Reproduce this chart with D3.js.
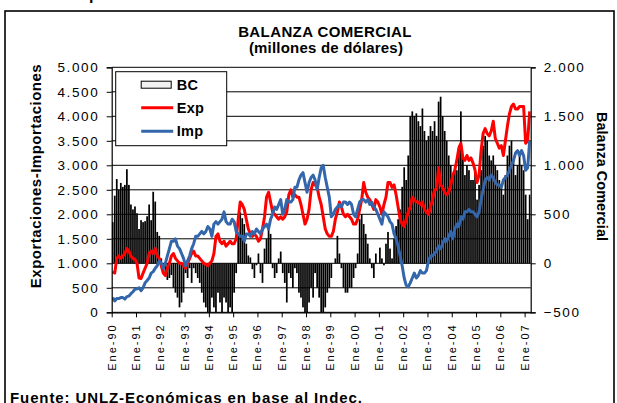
<!DOCTYPE html>
<html>
<head>
<meta charset="utf-8">
<script src="https://cdn.jsdelivr.net/npm/d3@7"></script>
<style>
  html, body { margin: 0; padding: 0; background: #fff; }
  svg text { font-family: Arial, "Liberation Sans", sans-serif; fill: #000; }
</style>
</head>
<body>
<div id="chart"></div>
<script>
'use strict';

// Years shown on the category axis (Enero of each year)
const years = ["90","91","92","93","94","95","96","97","98","99","00","01","02","03","04","05","06","07"];
const monthsPerYear = 12;
const lastYearMonths = 3; // Ene-07 .. Mar-07

// Exportaciones (millones de USD), one row per year
const exportaciones = [
  [830, 800, 1100, 1150, 1100, 1150, 1200, 1300, 1250, 1150, 1100, 1080],
  [1000, 700, 690, 800, 900, 1000, 1200, 1250, 1200, 1300, 1150, 1100],
  [950, 800, 750, 900, 1000, 1150, 1200, 1100, 1050, 1000, 1000, 950],
  [900, 1000, 1100, 1200, 1250, 1150, 1150, 1100, 1050, 1000, 980, 950],
  [1000, 1050, 1200, 1550, 1600, 1450, 1400, 1450, 1350, 1400, 1450, 1400],
  [1400, 1500, 1900, 2250, 2200, 2100, 1900, 1700, 1600, 1550, 1600, 1550],
  [1450, 1500, 1700, 1950, 2350, 2450, 2250, 2050, 2000, 1950, 1900, 1950],
  [1900, 1950, 2050, 2400, 2500, 2350, 2400, 2350, 2350, 2200, 2000, 1800],
  [1900, 2100, 2500, 2650, 2600, 2550, 2350, 2200, 1950, 1700, 1600, 1550],
  [1550, 1650, 1900, 2050, 2250, 2150, 2000, 1950, 2000, 1950, 1900, 1800],
  [1800, 1900, 2100, 2300, 2650, 2450, 2350, 2300, 2200, 2100, 2300, 2250],
  [2150, 2000, 2200, 2350, 2650, 2650, 2550, 2600, 2400, 2150, 1900, 1800],
  [1750, 1900, 2050, 2150, 2350, 2300, 2250, 2250, 2200, 2250, 2100, 2050],
  [2000, 2150, 2300, 2500, 2500, 2950, 2600, 2550, 2450, 2400, 2450, 2600],
  [2800, 2900, 3100, 3350, 3450, 3150, 3100, 3200, 3100, 3150, 3050, 2900],
  [2650, 2800, 3300, 3650, 3750, 3650, 3600, 3700, 3900, 3550, 3450, 3350],
  [3400, 3200, 3500, 3800, 4050, 4200, 4250, 4150, 4150, 4200, 4200, 4200],
  [3450, 3500, 4100]
];

// Importaciones (millones de USD)
const importaciones = [
  [300, 230, 280, 280, 300, 300, 270, 320, 330, 380, 420, 470],
  [480, 500, 440, 500, 600, 650, 700, 800, 830, 900, 950, 1050],
  [1000, 900, 1000, 1150, 1300, 1450, 1450, 1500, 1350, 1300, 1200, 1100],
  [950, 1050, 1150, 1300, 1400, 1550, 1550, 1600, 1650, 1600, 1650, 1750],
  [1700, 1550, 1800, 1850, 1800, 1850, 1900, 2050, 1850, 1800, 1800, 1900],
  [1850, 1650, 1600, 1550, 1550, 1450, 1600, 1600, 1550, 1650, 1600, 1700],
  [1650, 1600, 1700, 1750, 1800, 1700, 1900, 2000, 2150, 2100, 2200, 2300],
  [2000, 2100, 2300, 2250, 2250, 2300, 2550, 2550, 2700, 2800, 2850, 2650],
  [2450, 2650, 2750, 2800, 2700, 2500, 2750, 2950, 3000, 2750, 2550, 2350],
  [1950, 2000, 2100, 2150, 2200, 2150, 2250, 2250, 2200, 2250, 2200, 2000],
  [1950, 2100, 2250, 2300, 2300, 2250, 2300, 2200, 2250, 2150, 2100, 2000],
  [1900, 1800, 2050, 2000, 1950, 1850, 1800, 1600, 1500, 1350, 1150, 950],
  [700, 550, 520, 600, 700, 800, 700, 750, 850, 800, 800, 850],
  [1050, 1150, 1150, 1200, 1250, 1350, 1300, 1400, 1500, 1450, 1550, 1650],
  [1500, 1700, 1800, 1750, 1950, 1900, 2050, 2050, 2100, 2050, 2050, 2000],
  [1950, 2050, 2300, 2500, 2700, 2750, 2700, 2800, 2750, 2650, 2600, 2600],
  [2550, 2700, 2750, 2800, 2900, 3000, 3100, 3250, 3300, 3200, 3300, 3200],
  [2900, 2950, 3500]
];

// Balanza comercial (millones de USD)
const balanza = [
  [420, 690, 860, 750, 820, 780, 800, 960, 800, 600, 550, 580],
  [510, 350, 440, 420, 430, 480, 600, 440, 730, 630, 320, 280],
  [50, -50, -120, -170, -150, -120, -250, -300, -350, -450, -400, -300],
  [-100, -150, -50, -200, -50, -100, -150, -200, -300, -400, -450, -500],
  [-500, -350, -450, -500, -300, -400, -500, -350, -400, -500, -450, -500],
  [-300, -100, 300, 520, 460, 400, 200, 80, 60, -60, -150, -20],
  [100, -100, -200, 150, 250, 350, 300, -50, -150, -100, 50, 120],
  [-100, -200, -400, -100, -150, -250, -50, -100, -300, -350, -450, -500],
  [-500, -400, -250, -350, -100, -250, -350, -500, -500, -450, -300, -250],
  [-150, 0, 50, 280, 100, -50, -250, -300, -300, -250, -250, -150],
  [-50, 100, 450, 500, 400, 300, 200, 50, -50, -150, 100, 0],
  [160, 50, -20, 200, 320, 150, 50, 250, 380, 450, 550, 780],
  [980, 850, 1100, 1500, 1550, 1500, 1530, 1450, 1400, 1580, 1350, 1250],
  [1300, 1400, 1350, 1450, 1300, 1650, 1700, 1500, 1350, 1250, 1100, 1000],
  [900, 1000, 950, 1200, 1550, 1100, 900, 1000, 950, 850, 850, 950],
  [650, 800, 950, 1200, 1300, 1250, 1100, 1050, 1100, 1000, 950, 850],
  [800, 700, 900, 1100, 1200, 1250, 1050, 900, 1000, 1100, 1000, 950],
  [700, 450, 700]
];

const leftTicks = [0, 500, 1000, 1500, 2000, 2500, 3000, 3500, 4000, 4500, 5000];
const rightTicks = [-500, 0, 500, 1000, 1500, 2000];

// ---- flatten into monthly records
const months = [];
years.forEach((yy, yi) => {
  const n = yi === years.length - 1 ? lastYearMonths : monthsPerYear;
  for (let m = 0; m < n; m++) {
    months.push({
      key: `${yy}-${m + 1}`,
      label: m === 0 ? `Ene-${yy}` : null,
      exp: exportaciones[yi][m],
      imp: importaciones[yi][m],
      bc: balanza[yi][m]
    });
  }
});

const width = 617, height = 403;
const plot = { left: 111.7, right: 530.7, top: 67.3, bottom: 312.3 };
const colors = { exp: "#ff0000", imp: "#3366aa", bars: "#000" };
const fmt = d => d3.format(",")(d).replace(/,/g, ".");

const svg = d3.select("#chart").append("svg")
  .attr("width", width)
  .attr("height", height);

// ---- scales
const x = d3.scaleBand()
  .domain(months.map(d => d.key))
  .range([plot.left, plot.right])
  .paddingInner(0.15)
  .paddingOuter(0.075);

const xIndex = d3.scaleLinear()
  .domain([0, months.length])
  .range([plot.left, plot.right]);

const yLeft = d3.scaleLinear().domain([0, 5000]).range([plot.bottom, plot.top]);
const yRight = d3.scaleLinear().domain([-500, 2000]).range([plot.bottom, plot.top]);

// ---- outer frame
svg.append("rect")
  .attr("x", 5).attr("y", 11)
  .attr("width", 609).attr("height", 420)
  .attr("fill", "none")
  .attr("stroke", "#000")
  .attr("stroke-width", 1.6);

// cut-off glyph from the text above the frame
svg.append("text")
  .attr("x", 89).attr("y", 0)
  .attr("font-size", 16).attr("font-weight", 700)
  .text("p");

// ---- titles
svg.append("text")
  .attr("x", 325).attr("y", 36.7)
  .attr("text-anchor", "middle")
  .attr("font-size", 15).attr("font-weight", 700)
  .attr("letter-spacing", 0.4)
  .text("BALANZA COMERCIAL");

svg.append("text")
  .attr("x", 326).attr("y", 53)
  .attr("text-anchor", "middle")
  .attr("font-size", 15).attr("font-weight", 700)
  .attr("letter-spacing", 0.2)
  .text("(millones de dólares)");

// ---- gridlines
svg.append("g")
  .selectAll("line")
  .data(leftTicks)
  .join("line")
  .attr("x1", plot.left).attr("x2", plot.right)
  .attr("y1", d => yLeft(d)).attr("y2", d => yLeft(d))
  .attr("stroke", "#000")
  .attr("stroke-width", 1);

// ---- bars (clipped to the plot area)
svg.append("clipPath").attr("id", "plot-clip")
  .append("rect")
  .attr("x", plot.left).attr("y", plot.top)
  .attr("width", plot.right - plot.left)
  .attr("height", plot.bottom - plot.top);

const clipped = svg.append("g").attr("clip-path", "url(#plot-clip)");

clipped.append("g")
  .selectAll("rect")
  .data(months)
  .join("rect")
  .attr("x", d => x(d.key))
  .attr("width", x.bandwidth())
  .attr("y", d => Math.min(yRight(d.bc), yRight(0)))
  .attr("height", d => Math.abs(yRight(d.bc) - yRight(0)))
  .attr("fill", colors.bars);

// ---- lines
const lineFor = key => d3.line()
  .x(d => x(d.key) + x.bandwidth() / 2)
  .y(d => yLeft(d[key]));

clipped.append("path")
  .datum(months)
  .attr("d", lineFor("exp"))
  .attr("fill", "none")
  .attr("stroke", colors.exp)
  .attr("stroke-width", 3)
  .attr("stroke-linejoin", "round");

clipped.append("path")
  .datum(months)
  .attr("d", lineFor("imp"))
  .attr("fill", "none")
  .attr("stroke", colors.imp)
  .attr("stroke-width", 3)
  .attr("stroke-linejoin", "round");

// ---- axes
const axisLeft = svg.append("g")
  .attr("transform", `translate(${plot.left},0)`)
  .call(d3.axisLeft(yLeft).tickValues(leftTicks).tickFormat(fmt).tickSize(5).tickPadding(9));

const axisRight = svg.append("g")
  .attr("transform", `translate(${plot.right},0)`)
  .call(d3.axisRight(yRight).tickValues(rightTicks).tickFormat(fmt).tickSize(5).tickPadding(8));

const yearIdx = months.map((d, i) => d.label ? i : -1).filter(i => i >= 0);

const axisBottom = svg.append("g")
  .attr("transform", `translate(0,${plot.bottom})`)
  .call(d3.axisBottom(xIndex)
    .tickValues(yearIdx)
    .tickFormat(i => months[i].label)
    .tickSize(5)
    .tickSizeOuter(0));

[axisLeft, axisRight, axisBottom].forEach(ax => {
  ax.select(".domain").attr("stroke", "#000").attr("stroke-width", 1.2);
  ax.selectAll(".tick line").attr("stroke", "#000");
  ax.selectAll("text")
    .attr("font-family", 'Arial, "Liberation Sans", sans-serif')
    .attr("fill", "#000");
});

axisLeft.selectAll("text").attr("font-size", 13.5).attr("letter-spacing", 1.6).attr("dx", 1.6);
axisRight.selectAll("text").attr("font-size", 13.5).attr("letter-spacing", 1.6);

axisBottom.selectAll("text")
  .attr("font-size", 11)
  .attr("letter-spacing", 2)
  .attr("text-anchor", "end")
  .attr("dy", null)
  .attr("y", 0)
  .attr("transform", "translate(-0.5,11) rotate(-90)")
  .attr("dominant-baseline", "central");

// ---- axis titles
svg.append("text")
  .attr("transform", "translate(35,176) rotate(-90)")
  .attr("text-anchor", "middle")
  .attr("dominant-baseline", "central")
  .attr("font-size", 15).attr("font-weight", 700)
  .attr("letter-spacing", 0.5)
  .text("Exportaciones-Importaciones");

svg.append("text")
  .attr("transform", "translate(602,176.5) rotate(90)")
  .attr("text-anchor", "middle")
  .attr("dominant-baseline", "central")
  .attr("font-size", 14.5).attr("font-weight", 700)
  .text("Balanza Comercial");

// ---- legend
const legend = svg.append("g").attr("transform", "translate(115.7,71.7)");

legend.append("rect")
  .attr("width", 111).attr("height", 74)
  .attr("fill", "#fff")
  .attr("stroke", "#000")
  .attr("stroke-width", 1);

const legendItems = [
  { name: "BC", type: "bar", y: 13 },
  { name: "Exp", type: "line", color: colors.exp, y: 36 },
  { name: "Imp", type: "line", color: colors.imp, y: 59.5 }
];

legendItems.forEach(item => {
  if (item.type === "bar") {
    legend.append("rect")
      .attr("x", 25.5).attr("y", item.y - 3.5)
      .attr("width", 30).attr("height", 7)
      .attr("fill", "#f2f2f2")
      .attr("stroke", "#000");
  } else {
    legend.append("line")
      .attr("x1", 25.5).attr("x2", 57.5)
      .attr("y1", item.y).attr("y2", item.y)
      .attr("stroke", item.color)
      .attr("stroke-width", 3);
  }
  legend.append("text")
    .attr("x", 61).attr("y", item.y + 5)
    .attr("font-size", 14.5).attr("font-weight", 700)
    .attr("letter-spacing", 0.3)
    .text(item.name);
});

// ---- source
svg.append("text")
  .attr("x", 10).attr("y", 403)
  .attr("font-size", 15).attr("font-weight", 700)
  .attr("letter-spacing", 0.9)
  .text("Fuente: UNLZ-Económicas en base al Indec.");
</script>
</body>
</html>
